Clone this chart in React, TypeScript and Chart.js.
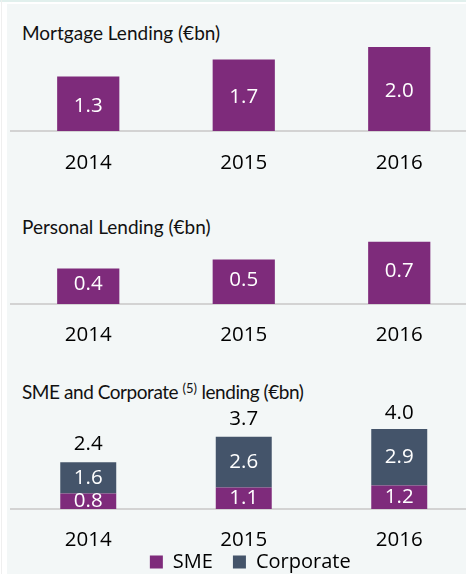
import React, { useEffect, useRef } from "react";
import { Chart, registerables } from "chart.js";

Chart.register(...registerables);

// ---- data ----
const years = ["2014", "2015", "2016"];
const mortgage = [1.3, 1.7, 2.0];
const personal = [0.4, 0.5, 0.7];
const sme = [0.8, 1.1, 1.2];
const corporate = [1.6, 2.6, 2.9];
const smeCorpTotals = [2.4, 3.7, 4.0];

const PURPLE = "#7E2B7B";
const SLATE = "#44546A";
const AXIS = "#D3D3D3";
const BG = "#F3F7F7";
const TITLE_FONT = "Lato, 'Open Sans', sans-serif";
const NUM_FONT = "'Open Sans', 'Noto Sans', sans-serif";
const NUM_SIZE = 20.5;
const LEGEND_SIZE = 20;

type Cfg = {
  top: number;
  height: number;
  baseline: number;
  pxPerUnit: number;
  tickCenter: number;
  barPct: number;
  datasets: any[];
  totals?: number[];
  legend?: boolean;
  labelOffset?: number;
};

const CANVAS_LEFT = 7;
const CANVAS_WIDTH = 470;
const PAD_LEFT = 3.5;
const LEGEND_PAD = 0;
const LEGEND_SHIFT = 6.5;

function BarPanel(props: Cfg) {
  const ref = useRef<HTMLCanvasElement | null>(null);
  useEffect(() => {
    const canvas = ref.current!;
    const { top, height, baseline, pxPerUnit, tickCenter, barPct, datasets, totals, legend, labelOffset = 0 } = props;
    const areaH = baseline - top;
    const legendH = legend ? LEGEND_SIZE + LEGEND_PAD + 10 : 0;
    const xScaleH = height - areaH - legendH;
    const lineH = NUM_SIZE * 1.2;

    const labelPlugin = {
      id: "valueLabels",
      afterLayout(chart: any) {
        const l = chart.legend;
        if (legend && l) {
          l.left += LEGEND_SHIFT;
          l.right += LEGEND_SHIFT;
        }
      },
      afterDatasetsDraw(chart: any) {
        const ctx = chart.ctx;
        const area = chart.chartArea;
        ctx.save();
        ctx.beginPath();
        ctx.rect(area.left, area.top - 200, area.right - area.left, area.bottom - area.top + 199);
        ctx.clip();
        ctx.font = `${NUM_SIZE}px ${NUM_FONT}`;
        ctx.textAlign = "center";
        ctx.textBaseline = "middle";
        ctx.fillStyle = "#FFFFFF";
        chart.data.datasets.forEach((ds: any, di: number) => {
          const meta = chart.getDatasetMeta(di);
          meta.data.forEach((bar: any, i: number) => {
            const v = ds.data[i];
            const cy = (bar.y + bar.base) / 2 + labelOffset;
            ctx.fillText(v.toFixed(1), bar.x, cy);
          });
        });
        ctx.restore();
        if (totals) {
          ctx.save();
          ctx.font = `${NUM_SIZE}px ${NUM_FONT}`;
          ctx.textAlign = "center";
          ctx.textBaseline = "middle";
          ctx.fillStyle = "#000000";
          const yScale = chart.scales.y;
          const lastMeta = chart.getDatasetMeta(chart.data.datasets.length - 1);
          lastMeta.data.forEach((bar: any, i: number) => {
            ctx.fillText(totals[i].toFixed(1), bar.x, yScale.getPixelForValue(totals[i]) - 18);
          });
          ctx.restore();
        }
      },
    };

    const chart = new Chart(canvas, {
      type: "bar",
      data: {
        labels: years,
        datasets: datasets.map((d) => ({
          ...d,
          barPercentage: barPct,
          categoryPercentage: 1,
          borderWidth: 0,
        })),
      },
      options: {
        responsive: false,
        animation: false,
        devicePixelRatio: 1,
        layout: { padding: { left: PAD_LEFT, right: 0, top: 0, bottom: 0 } },
        plugins: {
          legend: legend
            ? {
                display: true,
                position: "bottom",
                labels: {
                  boxWidth: 13,
                  boxHeight: 13,
                  padding: LEGEND_PAD,
                  color: "#000000",
                  font: { family: NUM_FONT, size: LEGEND_SIZE },
                  generateLabels: (chart: any) => {
                    const items = Chart.defaults.plugins.legend.labels.generateLabels(chart);
                    return items.map((it: any, i: number) => ({
                      ...it,
                      text: i < items.length - 1 ? it.text + "\u2002\u2002" : it.text,
                      lineWidth: 0,
                    }));
                  },
                },
              }
            : { display: false },
          tooltip: { enabled: false },
          title: { display: false },
        },
        scales: {
          x: {
            stacked: true,
            offset: true,
            grid: { display: false, drawTicks: false },
            border: { display: true, color: AXIS, width: 2 },
            ticks: {
              color: "#000000",
              font: { family: NUM_FONT, size: NUM_SIZE },
              padding: tickCenter - baseline - lineH / 2,
              maxRotation: 0,
              autoSkip: false,
            },
            afterFit: (scale: any) => {
              scale.height = xScaleH;
            },
          },
          y: {
            stacked: true,
            display: false,
            min: 0,
            max: areaH / pxPerUnit,
          },
        },
      },
      plugins: [labelPlugin],
    } as any);
    return () => chart.destroy();
  }, []);
  return (
    <canvas
      ref={ref}
      width={CANVAS_WIDTH}
      height={props.height}
      style={{ position: "absolute", left: CANVAS_LEFT, top: props.top, width: CANVAS_WIDTH, height: props.height }}
    />
  );
}

const titleStyle = (top: number, spacing = 0): React.CSSProperties => ({
  position: "absolute",
  left: 22,
  top,
  fontFamily: TITLE_FONT,
  fontSize: 19,
  lineHeight: "24px",
  color: "#111111",
  letterSpacing: `${spacing}px`,
  whiteSpace: "nowrap",
});

export default function App() {
  return (
    <div style={{ position: "relative", width: 466, height: 574, overflow: "hidden", background: "#FFFFFF" }}>
      <style>{`html,body{margin:0;padding:0;overflow:hidden;background:#fff}`}</style>
      <div style={{ position: "absolute", left: 0, top: 0, width: 466, height: 2, background: "#E1F0ED" }} />
      <div style={{ position: "absolute", left: 1, top: 0, width: 1, height: 574, background: "#EFEFEF" }} />
      <div style={{ position: "absolute", left: 7, top: 4, width: 459, height: 570, background: BG }} />
      <div style={titleStyle(21)}>Mortgage Lending (€bn)</div>
      <div style={titleStyle(215)}>Personal Lending (€bn)</div>
      <div style={titleStyle(380, -0.45)}>
        SME and Corporate{" "}
        <sup style={{ fontSize: 13, verticalAlign: "6px", lineHeight: 0, letterSpacing: 0 }}>(5)</sup> lending (€bn)
      </div>
      <BarPanel
        top={40}
        height={145}
        baseline={131}
        pxPerUnit={42}
        tickCenter={163}
        barPct={0.4}
        labelOffset={2}
        datasets={[{ label: "Mortgage Lending", data: mortgage, backgroundColor: PURPLE }]}
      />
      <BarPanel
        top={235}
        height={125}
        baseline={304}
        pxPerUnit={89}
        tickCenter={335}
        barPct={0.4}
        labelOffset={-2}
        datasets={[{ label: "Personal Lending", data: personal, backgroundColor: PURPLE }]}
      />
      <BarPanel
        top={400}
        height={182}
        baseline={509}
        pxPerUnit={19.5}
        tickCenter={540}
        barPct={0.36}
        legend
        totals={smeCorpTotals}
        datasets={[
          { label: "SME", data: sme, backgroundColor: PURPLE },
          { label: "Corporate", data: corporate, backgroundColor: SLATE },
        ]}
      />
    </div>
  );
}
